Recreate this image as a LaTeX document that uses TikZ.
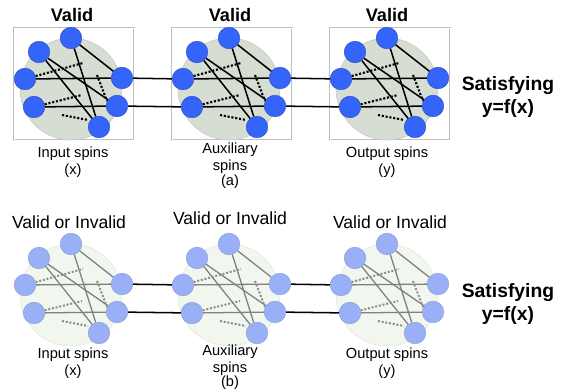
\documentclass[tikz,border=0pt]{standalone}
\usepackage{fontspec}
\setmainfont{Liberation Sans}
\definecolor{spinblue}{RGB}{52,100,250}
\definecolor{spinpale}{RGB}{154,176,246}
\definecolor{discgrey}{RGB}{214,222,211}
\definecolor{discpale}{RGB}{241,246,238}
\begin{document}
\begin{tikzpicture}[x=0.03cm, y=-0.03cm,
	frame/.style={draw=black!25, double=white, double distance=0.6pt, line width=0.7pt, minimum width=3.6cm, minimum height=3.36cm, inner sep=0pt},
	link/.style={line width=1.3pt},
	looka/.style={
		disc/.style={circle, fill=discgrey, draw=black!22, line width=0.5pt, minimum size=3.06cm, inner sep=0pt},
		spin/.style={circle, fill=spinblue, draw=spinblue!70!black, line width=0.3pt, minimum size=0.65cm, inner sep=0pt},
		bond/.style={line width=1.3pt},
		weak/.style={line width=1.8pt, dash pattern=on 1.8pt off 1.5pt}},
	lookb/.style={
		disc/.style={circle, fill=discpale, draw=black!10, line width=0.5pt, minimum size=3.06cm, inner sep=0pt},
		spin/.style={circle, fill=spinpale, draw=spinpale!85!black, line width=0.3pt, minimum size=0.65cm, inner sep=0pt},
		bond/.style={line width=1.1pt, draw=black!50},
		weak/.style={line width=1.7pt, draw=black!45, dash pattern=on 1.7pt off 1.5pt}},
	title/.style={font=\fontsize{15.5}{18}\selectfont\bfseries},
	titleb/.style={font=\fontsize{15}{18}\selectfont},
	caption/.style={font=\fontsize{12.5}{14.5}\selectfont, align=center, anchor=north, inner sep=0pt},
	result/.style={font=\fontsize{16.5}{19}\selectfont\bfseries, align=center}]
	\useasboundingbox (0,0) rectangle (562,391);

	% frames of the valid states
	\foreach \i/\dx in {1/0, 2/158, 3/316}
		\node[frame] (box\i) at (74+\dx,84) {};

	% the three spin clusters of both rows
	\foreach \c/\dx/\dy/\look in {a1/0/0/looka, a2/158/0/looka, a3/316/0/looka, b1/0/206/lookb, b2/158/206/lookb, b3/316/206/lookb}{
		\begin{scope}[shift={(\dx,\dy)}, \look]
			\node[disc] (\c-d) at (71,89) {};
			\node[spin] (\c-1) at (39,52) {};
			\node[spin] (\c-2) at (71,38) {};
			\node[spin] (\c-3) at (25,79) {};
			\node[spin] (\c-4) at (122,78) {};
			\node[spin] (\c-5) at (34,107) {};
			\node[spin] (\c-6) at (117,106) {};
			\node[spin] (\c-7) at (99,127) {};
			\coordinate (\c-p) at (83,63);
			\coordinate (\c-q) at (97,75);
			\coordinate (\c-r) at (107,101);
			\coordinate (\c-s) at (82,95);
			\coordinate (\c-t) at (62,115);
			\coordinate (\c-u) at (88,120);
			\draw[bond] (\c-2) -- (\c-4);
			\draw[bond] (\c-2) -- (\c-7);
			\draw[bond] (\c-1) -- (\c-7);
			\draw[bond] (\c-1) -- (\c-6);
			\draw[bond] (\c-3) -- (\c-4);
			\draw[bond] (\c-5) -- (\c-6);
			\draw[weak] (\c-3) -- (\c-p);
			\draw[weak] (\c-q) -- (\c-r);
			\draw[weak] (\c-5) -- (\c-s);
			\draw[weak] (\c-t) -- (\c-u);
		\end{scope}
	}

	% couplings between the clusters
	\foreach \r in {a, b}{
		\draw[link] (\r1-4) -- (\r2-3);
		\draw[link] (\r1-6) -- (\r2-5);
		\draw[link] (\r2-4) -- (\r3-3);
		\draw[link] (\r2-6) -- (\r3-5);
	}

	\node[title] (va1) at (72,15) {Valid};
	\node[title] (va2) at (230,15) {Valid};
	\node[title] (va3) at (387,15) {Valid};
	\node[titleb] (vb1) at (69,222) {Valid or Invalid};
	\node[titleb] (vb2) at (230,218) {Valid or Invalid};
	\node[titleb] (vb3) at (390,222) {Valid or Invalid};

	\node[caption] (ina) at (73,147) {Input spins\\(x)};
	\node[caption] (auxa) at (230,143) {Auxiliary\\spins};
	\node[caption] (outa) at (387,147) {Output spins\\(y)};
	\node (laba) at (230,182) {\fontsize{12.5}{14.5}\selectfont(a)};
	\node[caption] (inb) at (73,348) {Input spins\\(x)};
	\node[caption] (auxb) at (230,345) {Auxiliary\\spins};
	\node[caption] (outb) at (387,348) {Output spins\\(y)};
	\node (labb) at (230,383) {\fontsize{12.5}{14.5}\selectfont(b)};

	\node[result] (sata) at (508,97) {Satisfying\\y=f(x)};
	\node[result] (satb) at (508,304) {Satisfying\\y=f(x)};
\end{tikzpicture}
\end{document}
